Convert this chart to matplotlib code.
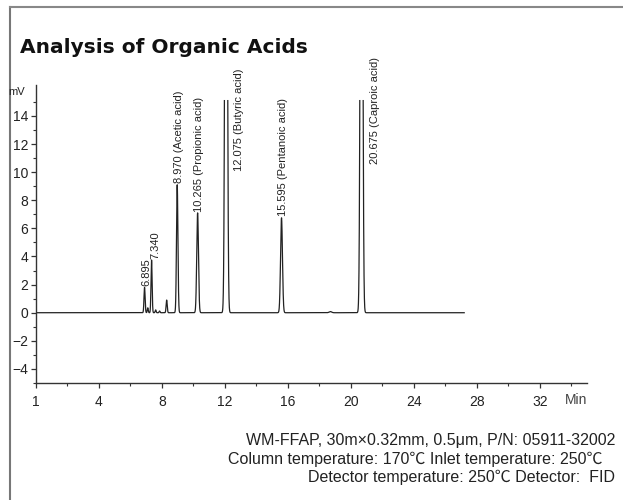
import numpy as np
import matplotlib
matplotlib.use("Agg")
import matplotlib.pyplot as plt
from matplotlib.lines import Line2D

plt.rcParams['font.family'] = ['Liberation Sans', 'DejaVu Sans']

# --- peak table (retention time in min, height in mV, sigma in min) ---
tiempos = [6.895, 7.10, 7.340, 7.60, 7.85, 8.30, 8.970, 10.265, 12.075, 15.595, 18.70, 20.675]
alturas = [1.8, 0.35, 3.75, 0.2, 0.12, 0.9, 9.1, 7.1, 60.0, 6.75, 0.08, 60.0]
anchos = [0.035, 0.03, 0.035, 0.03, 0.03, 0.035, 0.045, 0.055, 0.065, 0.06, 0.08, 0.065]

# labels of the named peaks
etiquetas = ["6.895", "7.340", "8.970 (Acetic acid)", "10.265 (Propionic acid)",
             "12.075 (Butyric acid)", "15.595 (Pentanoic acid)", "20.675 (Caproic acid)"]
idx_etiquetas = [0, 2, 6, 7, 8, 9, 11]
# top of the label for the saturated peaks (mV)
tope_etiqueta = {8: 17.4, 11: 18.2}

FIN_CORRIDA = 27.2
TOPE = 15.1  # detector saturates here

xticks = [0, 4, 8, 12, 16, 20, 24, 28, 32]
xtick_labels = ["1", "4", "8", "12", "16", "20", "24", "28", "32"]
yticks = [-4, -2, 0, 2, 4, 6, 8, 10, 12, 14]

notas = ["WM-FFAP, 30m×0.32mm, 0.5μm, P/N: 05911-32002",
         "Column temperature: 170℃ Inlet temperature: 250℃",
         "Detector temperature: 250℃ Detector:  FID"]

# --- trace ---
t = np.arange(0, FIN_CORRIDA, 0.0005)
senal = np.zeros_like(t)
for t0, h, s in zip(tiempos, alturas, anchos):
    senal += h * np.exp(-0.5 * ((t - t0) / s) ** 2)
senal[senal > TOPE] = np.nan

W, H = 623, 500
fig = plt.figure(figsize=(W / 100, H / 100), dpi=100)
ax = fig.add_axes([36 / W, 1 - 383 / H, (587 - 36) / W, (383 - 85) / H])

ax.plot(t, senal, color='#222222', lw=0.9)

ax.set_xlim(0, 35)
ax.set_ylim(-5, 16.2)
ax.set_xticks(xticks)
ax.set_xticklabels(xtick_labels)
ax.set_xticks(np.arange(2, 35, 4), minor=True)
ax.set_yticks(yticks)
ax.set_yticks(np.arange(-5, 16, 1), minor=True)

for lado in ['top', 'right']:
    ax.spines[lado].set_visible(False)
for lado in ['left', 'bottom']:
    ax.spines[lado].set_color('#333333')
    ax.spines[lado].set_linewidth(1.0)

ax.tick_params(axis='both', which='major', length=3.5, width=0.9, color='#333333',
               labelsize=10, labelcolor='#222222', pad=2)
ax.tick_params(axis='both', which='minor', length=2, width=0.8, color='#333333')
ax.tick_params(axis='x', pad=5)

# peak labels
for texto, i in zip(etiquetas, idx_etiquetas):
    t0, h = tiempos[i], alturas[i]
    if h > TOPE:
        ax.text(t0 + 0.85, tope_etiqueta[i], texto, rotation=90, ha='center', va='top',
                fontsize=8, color='#222222', clip_on=False)
    else:
        dx = 0.25 if i == 2 else 0.1
        ax.text(t0 + dx, h + 0.1, texto, rotation=90, ha='center', va='bottom',
                fontsize=8, color='#222222', clip_on=False)

# axis units
fig.text(8 / W, 1 - 92 / H, "mV", fontsize=8, ha='left', va='center', color='#222222')
fig.text(576 / W, 1 - 400 / H, "Min", fontsize=10, ha='center', va='center', color='#444444')

# title
fig.text(20 / W, 1 - 53 / H, "Analysis of Organic Acids", fontsize=14.5, fontweight='bold',
         family='DejaVu Sans', ha='left', va='baseline', color='#111111')

# footnotes
fam_nota = ['Liberation Sans', 'Noto Sans CJK SC']
fig.text(615 / W, 1 - 441 / H, notas[0], fontsize=11.5, ha='right', va='center',
         color='#222222', family=fam_nota)
fig.text(602 / W, 1 - 459 / H, notas[1], fontsize=11.5, ha='right', va='center',
         color='#222222', family=fam_nota)
fig.text(615 / W, 1 - 477 / H, notas[2], fontsize=11.5, ha='right', va='center',
         color='#222222', family=fam_nota)

# frame edges (left and top)
fig.add_artist(Line2D([10 / W, 10 / W], [0, 1 - 7 / H], transform=fig.transFigure,
                      color='#777777', lw=1.5))
fig.add_artist(Line2D([10 / W, 1], [1 - 7 / H, 1 - 7 / H], transform=fig.transFigure,
                      color='#888888', lw=1.5))

fig.savefig("out.png", dpi=100)
